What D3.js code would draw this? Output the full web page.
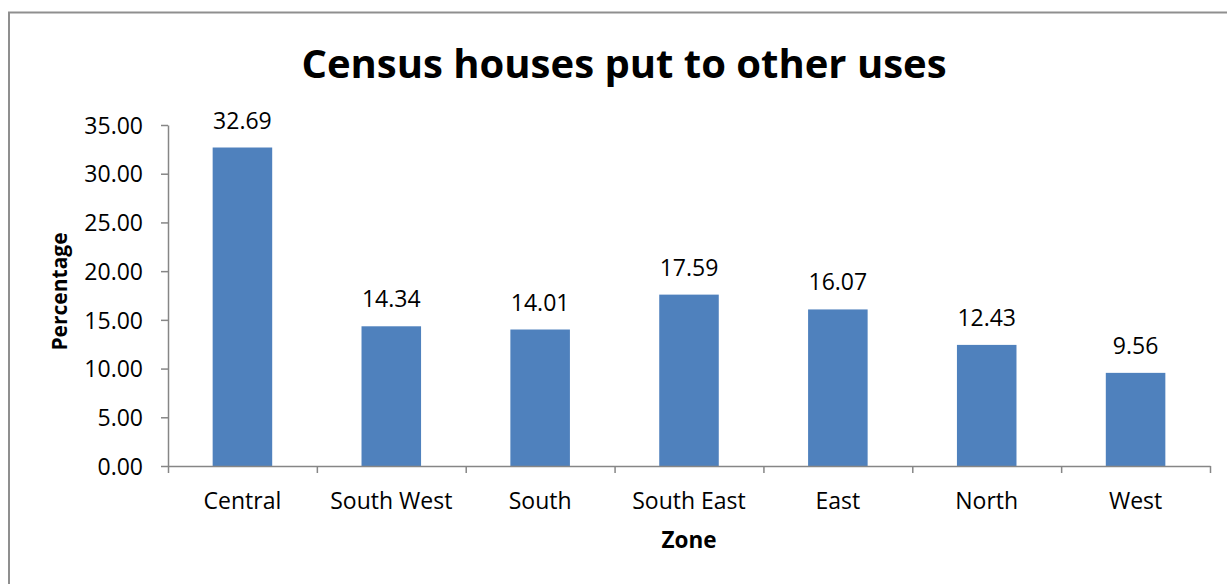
<!DOCTYPE html>
<html>
<head>
<meta charset="utf-8">
<script src="https://cdn.jsdelivr.net/npm/d3@7/dist/d3.min.js"></script>
<style>
  html, body { margin: 0; padding: 0; background: #ffffff; }
  svg { display: block; }
  text { font-family: "Open Sans", "Liberation Sans", sans-serif; fill: #000; }
</style>
</head>
<body>
<div id="chart"></div>
<script>
// Zones and the share of census houses put to other uses (%)
const zones = ["Central", "South West", "South", "South East", "East", "North", "West"];
const percentages = [32.69, 14.34, 14.01, 17.59, 16.07, 12.43, 9.56];
const yTicks = [0, 5, 10, 15, 20, 25, 30, 35];

const chartTitle = "Census houses put to other uses";
const xTitle = "Zone";
const yTitle = "Percentage";

const W = 1227, H = 584;
const plot = { left: 168, right: 1210, top: 125, bottom: 466 };
const axisColor = "#868686";
const barColor = "#4F81BD";

const svg = d3.select("#chart").append("svg")
  .attr("width", W).attr("height", H);

// Chart area frame
svg.append("rect")
  .attr("x", 9).attr("y", 12.5)
  .attr("width", W + 20).attr("height", H + 20)
  .attr("fill", "#ffffff")
  .attr("stroke", "#8f8f8f")
  .attr("stroke-width", 2);

const x = d3.scaleBand()
  .domain(zones)
  .range([plot.left, plot.right])
  .paddingInner(0.6)
  .paddingOuter(0.3);

const y = d3.scaleLinear()
  .domain([0, 35])
  .range([plot.bottom, plot.top]);

// Category boundaries for the x-axis tick marks
const xEdges = d3.scaleLinear()
  .domain([0, zones.length])
  .range([plot.left, plot.right]);

// Bars
svg.append("g").selectAll("rect")
  .data(zones)
  .join("rect")
  .attr("x", d => x(d))
  .attr("y", (d, i) => y(percentages[i]))
  .attr("width", x.bandwidth())
  .attr("height", (d, i) => y(0) - y(percentages[i]))
  .attr("fill", barColor);

// Y axis
const yAxis = svg.append("g")
  .attr("transform", `translate(${plot.left},0)`)
  .call(d3.axisLeft(y).tickValues(yTicks).tickFormat(d3.format(".2f"))
    .tickSize(7).tickSizeOuter(0).tickPadding(18));
yAxis.select(".domain").attr("stroke", axisColor).attr("stroke-width", 1.5);
yAxis.selectAll(".tick line").attr("stroke", axisColor).attr("stroke-width", 1.5);
yAxis.selectAll(".tick text")
  .style("font-size", "23px").attr("fill", "#000").attr("dy", "0.36em");

// X axis: tick marks between categories
const xAxisTicks = svg.append("g")
  .attr("transform", `translate(0,${plot.bottom})`)
  .call(d3.axisBottom(xEdges).tickValues(d3.range(zones.length + 1))
    .tickFormat("").tickSize(7).tickSizeOuter(0));
xAxisTicks.select(".domain").attr("stroke", axisColor).attr("stroke-width", 1.5);
xAxisTicks.selectAll(".tick line").attr("stroke", axisColor).attr("stroke-width", 1.5);

// X axis: category labels
const xAxisLabels = svg.append("g")
  .attr("transform", `translate(0,${plot.bottom})`)
  .call(d3.axisBottom(x).tickSize(0).tickPadding(27));
xAxisLabels.select(".domain").remove();
xAxisLabels.selectAll(".tick text")
  .style("font-size", "23px").attr("fill", "#000");

// Value labels above the bars
svg.append("g").selectAll("text")
  .data(zones)
  .join("text")
  .attr("x", d => x(d) + x.bandwidth() / 2)
  .attr("y", (d, i) => y(percentages[i]) - 19)
  .attr("text-anchor", "middle")
  .style("font-size", "23px")
  .text((d, i) => d3.format(".2f")(percentages[i]));

// Titles
svg.append("text")
  .attr("x", 624).attr("y", 78)
  .attr("text-anchor", "middle")
  .style("font-size", "40px").style("font-weight", "bold")
  .text(chartTitle);

svg.append("text")
  .attr("x", 689).attr("y", 548)
  .attr("text-anchor", "middle")
  .style("font-size", "22.5px").style("font-weight", "bold")
  .text(xTitle);

svg.append("text")
  .attr("transform", `translate(67,${(plot.top + plot.bottom) / 2 - 4}) rotate(-90)`)
  .attr("text-anchor", "middle")
  .style("font-size", "21px").style("font-weight", "bold")
  .text(yTitle);
</script>
</body>
</html>
